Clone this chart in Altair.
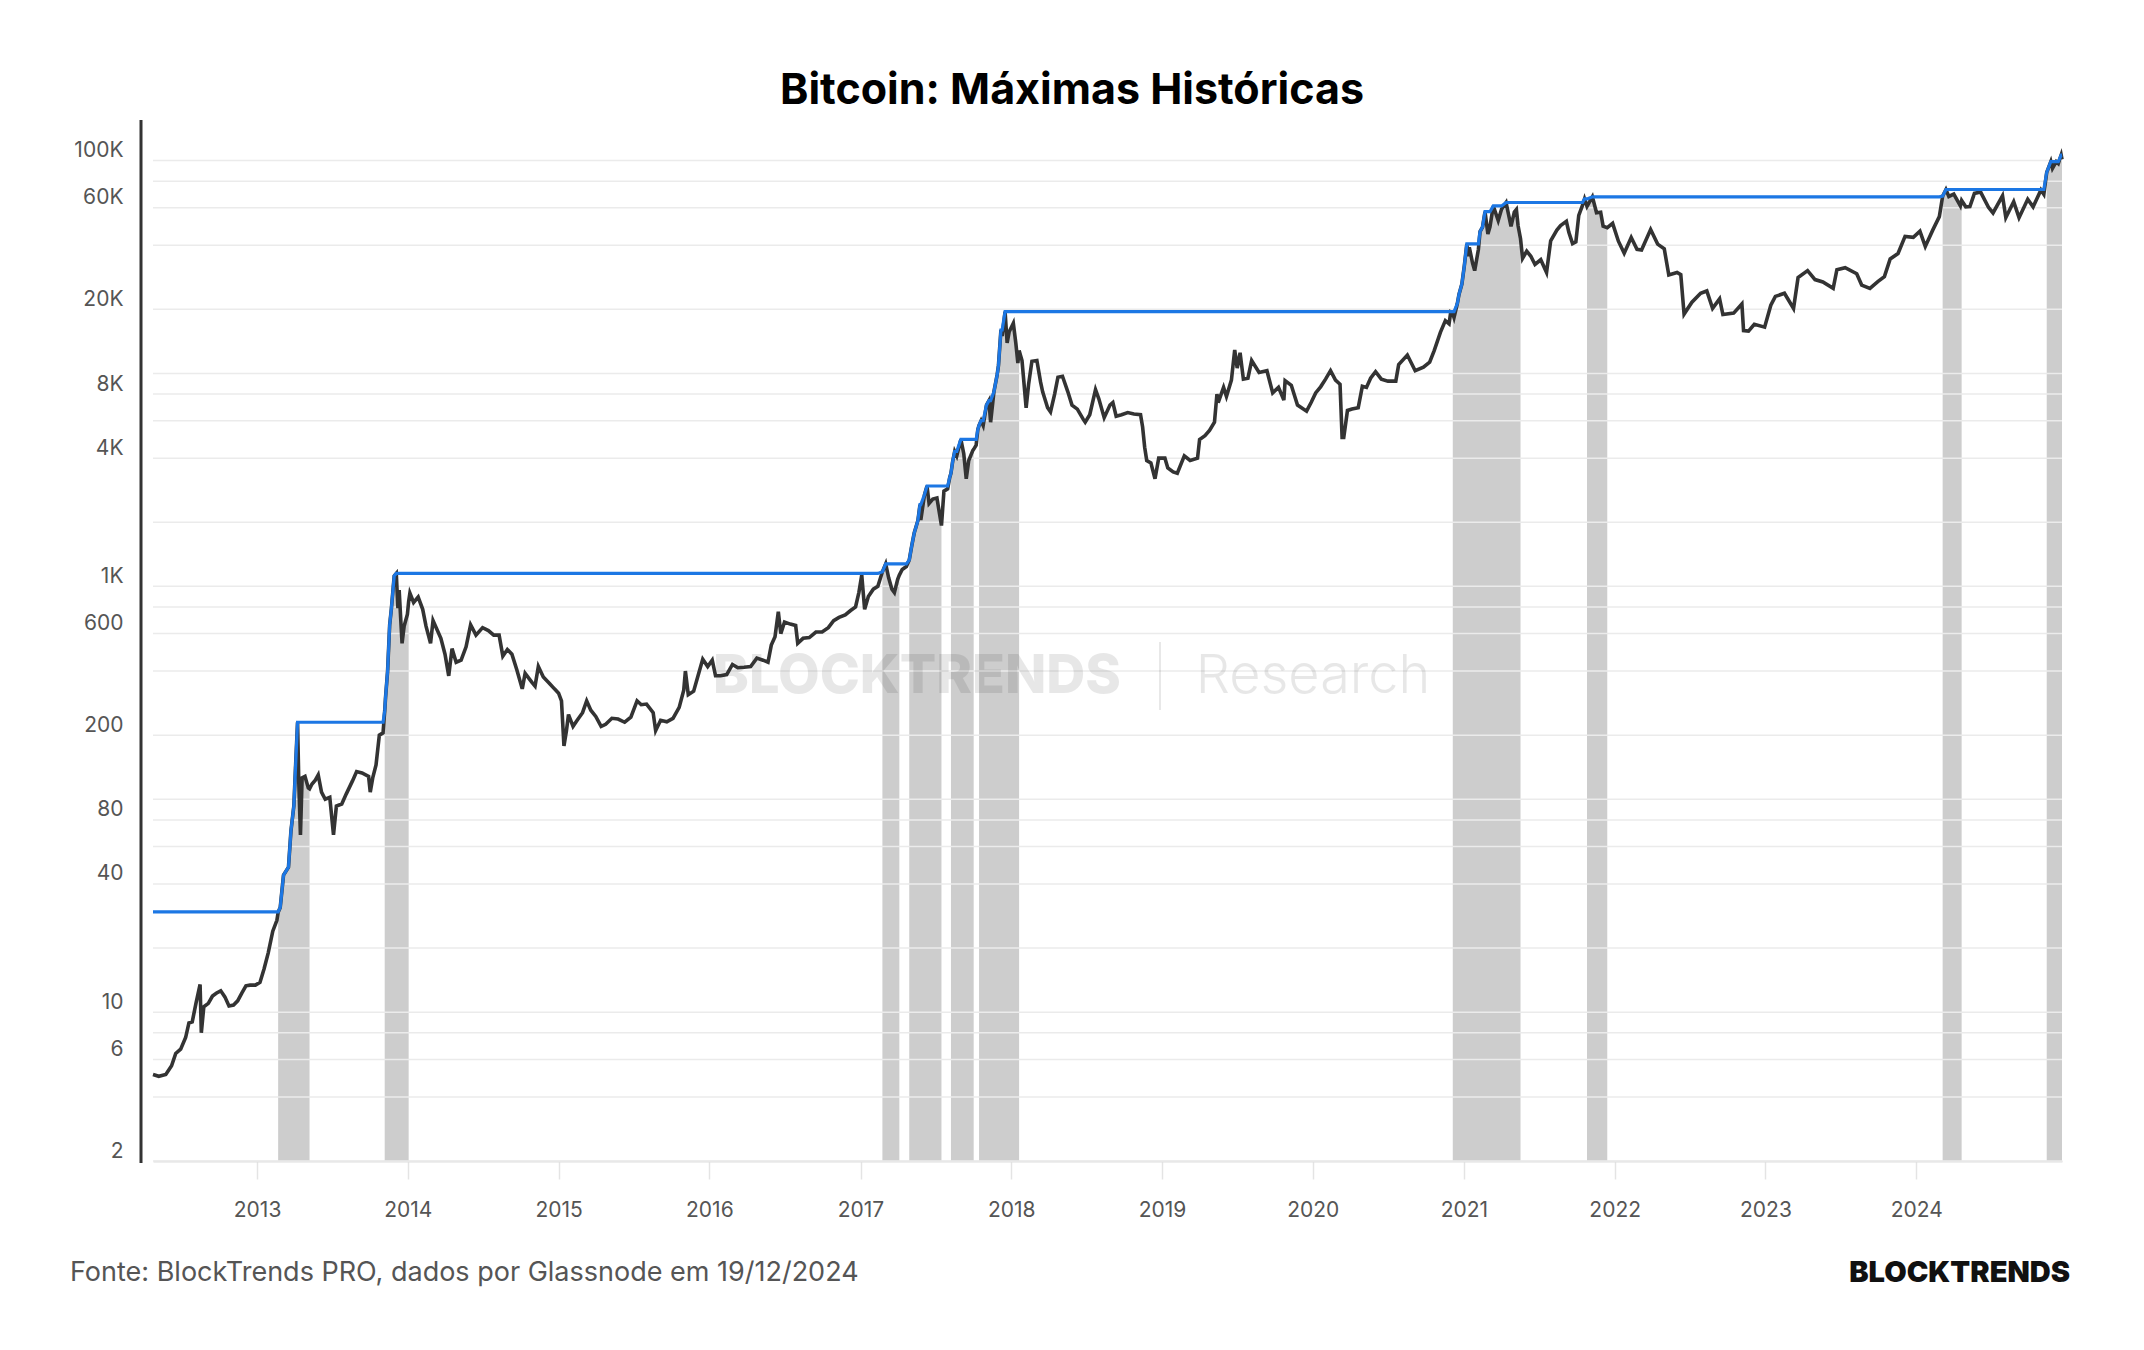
import altair as alt
import numpy as np
import pandas as pd

# Bitcoin daily close (USD), sampled along the curve
dates = [
    "2012-04-24", "2012-05-08", "2012-05-25", "2012-06-08", "2012-06-18", "2012-06-30",
    "2012-07-12", "2012-07-20", "2012-07-28", "2012-08-06", "2012-08-16", "2012-08-19",
    "2012-08-25", "2012-09-05", "2012-09-15", "2012-09-25", "2012-10-05", "2012-10-15",
    "2012-10-25", "2012-11-05", "2012-11-15", "2012-11-25", "2012-12-05", "2012-12-15",
    "2012-12-28",
    "2013-01-08", "2013-01-18", "2013-01-28", "2013-02-08", "2013-02-18", "2013-02-21",
    "2013-02-26", "2013-03-06", "2013-03-12", "2013-03-18", "2013-03-24", "2013-03-31",
    "2013-04-04", "2013-04-09", "2013-04-12", "2013-04-16", "2013-04-20", "2013-04-27",
    "2013-05-05", "2013-05-08", "2013-05-14", "2013-05-22", "2013-05-29", "2013-06-06",
    "2013-06-15", "2013-06-26", "2013-07-05", "2013-07-12", "2013-07-25", "2013-08-05",
    "2013-08-20", "2013-08-30", "2013-09-12", "2013-09-28", "2013-10-02", "2013-10-08",
    "2013-10-16", "2013-10-24", "2013-11-02", "2013-11-06", "2013-11-08", "2013-11-13",
    "2013-11-18", "2013-11-22", "2013-11-29", "2013-12-04", "2013-12-08", "2013-12-11",
    "2013-12-18", "2013-12-23", "2013-12-31",
    "2014-01-03", "2014-01-06", "2014-01-15", "2014-01-26", "2014-02-06", "2014-02-14",
    "2014-02-25", "2014-03-03", "2014-03-12", "2014-03-22", "2014-04-01", "2014-04-10",
    "2014-04-18", "2014-04-28", "2014-05-10", "2014-05-22", "2014-06-02", "2014-06-15",
    "2014-07-01", "2014-07-15", "2014-07-28", "2014-08-10", "2014-08-19", "2014-08-30",
    "2014-09-10", "2014-09-22", "2014-10-05", "2014-10-12", "2014-10-28", "2014-11-05",
    "2014-11-13", "2014-11-25", "2014-12-10", "2014-12-22",
    "2015-01-01", "2015-01-08", "2015-01-14", "2015-01-20", "2015-01-25", "2015-02-05",
    "2015-02-15", "2015-02-28", "2015-03-10", "2015-03-20", "2015-04-01", "2015-04-14",
    "2015-04-25", "2015-05-10", "2015-05-25", "2015-06-10", "2015-06-25", "2015-07-10",
    "2015-07-20", "2015-08-02", "2015-08-18", "2015-08-24", "2015-09-05", "2015-09-20",
    "2015-10-05", "2015-10-20", "2015-10-31", "2015-11-04", "2015-11-11", "2015-11-24",
    "2015-12-07", "2015-12-16", "2015-12-28",
    "2016-01-08", "2016-01-16", "2016-01-28", "2016-02-12", "2016-02-26", "2016-03-10",
    "2016-03-25", "2016-04-10", "2016-04-25", "2016-05-10", "2016-05-22", "2016-05-30",
    "2016-06-08", "2016-06-16", "2016-06-22", "2016-07-01", "2016-07-15", "2016-07-28",
    "2016-08-02", "2016-08-15", "2016-08-30", "2016-09-15", "2016-09-30", "2016-10-15",
    "2016-10-28", "2016-11-10", "2016-11-25", "2016-12-08", "2016-12-20", "2016-12-28",
    "2017-01-04", "2017-01-11", "2017-01-20", "2017-02-01", "2017-02-12", "2017-02-23",
    "2017-03-03", "2017-03-10", "2017-03-18", "2017-03-24", "2017-04-01", "2017-04-05",
    "2017-04-12", "2017-04-22", "2017-04-29", "2017-05-05", "2017-05-11", "2017-05-20",
    "2017-05-25", "2017-05-27", "2017-06-05", "2017-06-11", "2017-06-16", "2017-06-25",
    "2017-07-05", "2017-07-16", "2017-07-22", "2017-07-31", "2017-08-05", "2017-08-08",
    "2017-08-12", "2017-08-17", "2017-08-22", "2017-09-01", "2017-09-08", "2017-09-14",
    "2017-09-20", "2017-09-30", "2017-10-02", "2017-10-08", "2017-10-12", "2017-10-15",
    "2017-10-20", "2017-10-25", "2017-11-02", "2017-11-08", "2017-11-12", "2017-11-20",
    "2017-11-28", "2017-12-01", "2017-12-07", "2017-12-10", "2017-12-17", "2017-12-22",
    "2017-12-27",
    "2018-01-06", "2018-01-12", "2018-01-17", "2018-01-20", "2018-01-27", "2018-02-06",
    "2018-02-12", "2018-02-20", "2018-03-04", "2018-03-13", "2018-03-18", "2018-03-30",
    "2018-04-06", "2018-04-16", "2018-04-24", "2018-05-05", "2018-05-18", "2018-05-28",
    "2018-06-10", "2018-06-24", "2018-06-29", "2018-07-10", "2018-07-24", "2018-08-01",
    "2018-08-14", "2018-08-28", "2018-09-04", "2018-09-12", "2018-09-25", "2018-10-10",
    "2018-10-25", "2018-11-10", "2018-11-15", "2018-11-20", "2018-11-25", "2018-12-05",
    "2018-12-15", "2018-12-24",
    "2019-01-08", "2019-01-15", "2019-01-28", "2019-02-07", "2019-02-24", "2019-03-10",
    "2019-03-28", "2019-04-02", "2019-04-15", "2019-04-26", "2019-05-08", "2019-05-14",
    "2019-05-17", "2019-05-30", "2019-06-06", "2019-06-18", "2019-06-26", "2019-07-02",
    "2019-07-09", "2019-07-17", "2019-07-28", "2019-08-06", "2019-08-24", "2019-09-12",
    "2019-09-26", "2019-10-10", "2019-10-23", "2019-10-26", "2019-11-10", "2019-11-25",
    "2019-12-17", "2019-12-28",
    "2020-01-08", "2020-01-20", "2020-02-01", "2020-02-13", "2020-02-25", "2020-03-07",
    "2020-03-12", "2020-03-16", "2020-03-25", "2020-04-05", "2020-04-20", "2020-04-30",
    "2020-05-10", "2020-05-20", "2020-06-01", "2020-06-15", "2020-07-01", "2020-07-20",
    "2020-07-27", "2020-08-17", "2020-09-05", "2020-09-25", "2020-10-10", "2020-10-21",
    "2020-11-05", "2020-11-17", "2020-11-26", "2020-11-30", "2020-12-05", "2020-12-08",
    "2020-12-16", "2020-12-20", "2020-12-27",
    "2021-01-02", "2021-01-08", "2021-01-11", "2021-01-14", "2021-01-22", "2021-01-27",
    "2021-02-05", "2021-02-09", "2021-02-15", "2021-02-21", "2021-02-28", "2021-03-05",
    "2021-03-13", "2021-03-25", "2021-04-02", "2021-04-13", "2021-04-25", "2021-05-03",
    "2021-05-08", "2021-05-12", "2021-05-18", "2021-05-23", "2021-06-02", "2021-06-12",
    "2021-06-22", "2021-07-06", "2021-07-20", "2021-07-30", "2021-08-14", "2021-08-23",
    "2021-09-06", "2021-09-12", "2021-09-21", "2021-09-29", "2021-10-06", "2021-10-15",
    "2021-10-20", "2021-10-26", "2021-11-08", "2021-11-18", "2021-11-28", "2021-12-04",
    "2021-12-14", "2021-12-27",
    "2022-01-10", "2022-01-24", "2022-02-10", "2022-02-24", "2022-03-07", "2022-03-29",
    "2022-04-15", "2022-05-01", "2022-05-12", "2022-06-01", "2022-06-10", "2022-06-18",
    "2022-07-07", "2022-07-28", "2022-08-12", "2022-08-26", "2022-09-12", "2022-09-20",
    "2022-10-16", "2022-11-05", "2022-11-09", "2022-11-21", "2022-12-05", "2022-12-30",
    "2023-01-14", "2023-01-25", "2023-02-16", "2023-03-10", "2023-03-21", "2023-04-13",
    "2023-05-01", "2023-05-20", "2023-06-14", "2023-06-23", "2023-07-13", "2023-08-10",
    "2023-08-22", "2023-09-11", "2023-09-30", "2023-10-16", "2023-10-30", "2023-11-18",
    "2023-12-05", "2023-12-25",
    "2024-01-10", "2024-01-23", "2024-02-10", "2024-02-26", "2024-03-05", "2024-03-13",
    "2024-03-20", "2024-04-01", "2024-04-17", "2024-04-20", "2024-04-30", "2024-05-10",
    "2024-05-21", "2024-06-05", "2024-06-24", "2024-07-05", "2024-07-28", "2024-08-05",
    "2024-08-24", "2024-09-06", "2024-09-27", "2024-10-10", "2024-10-29", "2024-11-05",
    "2024-11-12", "2024-11-22", "2024-11-26", "2024-12-05", "2024-12-10", "2024-12-17",
    "2024-12-19",
]

prices = [
    5.1, 5.0, 5.1, 5.6, 6.4, 6.7,
    7.6, 8.9, 9.0, 11.0, 13.5, 8.0,
    10.6, 11.0, 11.9, 12.3, 12.6, 11.8,
    10.7, 10.8, 11.3, 12.3, 13.3, 13.4,
    13.4,
    13.8, 16.0, 19.0, 24.0, 27.0, 29.5,
    31.0, 44.0, 46.0, 48.0, 71.0, 93.0,
    140.0, 230.0, 120.0, 68.0, 126.0, 128.0,
    113.0, 112.0, 118.0, 123.0, 130.0, 108.0,
    100.0, 102.0, 68.0, 93.0, 95.0, 106.0,
    122.0, 135.0, 133.0, 128.0, 108.0, 126.0,
    145.0, 200.0, 205.0, 260.0, 300.0, 400.0,
    660.0, 780.0, 1120.0, 1150.0, 790.0, 960.0,
    540.0, 650.0, 740.0,
    850.0, 930.0, 840.0, 890.0, 780.0, 650.0,
    540.0, 690.0, 630.0, 570.0, 480.0, 380.0,
    510.0, 440.0, 450.0, 520.0, 660.0, 590.0,
    640.0, 620.0, 590.0, 590.0, 470.0, 505.0,
    480.0, 405.0, 330.0, 390.0, 355.0, 340.0,
    420.0, 375.0, 350.0, 330.0,
    315.0, 290.0, 178.0, 210.0, 250.0, 220.0,
    235.0, 255.0, 290.0, 262.0, 245.0, 220.0,
    225.0, 240.0, 238.0, 230.0, 243.0, 290.0,
    278.0, 280.0, 255.0, 210.0, 235.0, 231.0,
    240.0, 270.0, 325.0, 400.0, 310.0, 322.0,
    395.0, 455.0, 420.0,
    450.0, 380.0, 380.0, 385.0, 430.0, 415.0,
    417.0, 420.0, 460.0, 450.0, 440.0, 530.0,
    580.0, 760.0, 600.0, 680.0, 665.0, 655.0,
    540.0, 570.0, 575.0, 610.0, 610.0, 640.0,
    690.0, 715.0, 735.0, 770.0, 800.0, 935.0,
    1130.0, 780.0, 895.0, 970.0, 1000.0, 1170.0,
    1275.0, 1100.0, 970.0, 935.0, 1080.0, 1130.0,
    1200.0, 1240.0, 1330.0, 1550.0, 1780.0, 2040.0,
    2420.0, 2050.0, 2700.0, 2960.0, 2450.0, 2570.0,
    2600.0, 1930.0, 2800.0, 2870.0, 3250.0, 3400.0,
    3850.0, 4300.0, 4100.0, 4900.0, 4200.0, 3200.0,
    3900.0, 4350.0, 4400.0, 4600.0, 5450.0, 5700.0,
    6000.0, 5700.0, 7100.0, 7450.0, 5900.0, 8200.0,
    9900.0, 10900.0, 16000.0, 15000.0, 19500.0, 13900.0,
    15700.0,
    17200.0, 13900.0, 11200.0, 12800.0, 11500.0, 6900.0,
    8900.0, 11400.0, 11500.0, 9100.0, 8200.0, 6900.0,
    6600.0, 8000.0, 9600.0, 9700.0, 8200.0, 7100.0,
    6800.0, 6100.0, 5900.0, 6400.0, 8400.0, 7600.0,
    6200.0, 7100.0, 7300.0, 6300.0, 6400.0, 6550.0,
    6450.0, 6400.0, 5600.0, 4500.0, 3900.0, 3800.0,
    3200.0, 4000.0,
    4000.0, 3600.0, 3450.0, 3400.0, 4100.0, 3900.0,
    4000.0, 4900.0, 5100.0, 5400.0, 5900.0, 8000.0,
    7300.0, 8600.0, 7800.0, 9300.0, 12900.0, 10600.0,
    12500.0, 9400.0, 9500.0, 11500.0, 10100.0, 10300.0,
    8100.0, 8600.0, 7500.0, 9250.0, 8800.0, 7100.0,
    6650.0, 7300.0,
    8100.0, 8650.0, 9400.0, 10300.0, 9300.0, 8900.0,
    5000.0, 5000.0, 6700.0, 6800.0, 6900.0, 8700.0,
    8600.0, 9500.0, 10200.0, 9400.0, 9200.0, 9200.0,
    11000.0, 12200.0, 10300.0, 10700.0, 11300.0, 12800.0,
    15600.0, 17700.0, 17100.0, 19400.0, 19100.0, 18300.0,
    21300.0, 23500.0, 26300.0,
    32100.0, 40600.0, 35500.0, 39100.0, 32900.0, 30400.0,
    38200.0, 46400.0, 48700.0, 57500.0, 45200.0, 48800.0,
    61200.0, 52300.0, 59000.0, 63500.0, 49100.0, 57200.0,
    58800.0, 49500.0, 42900.0, 34700.0, 37500.0, 35500.0,
    32500.0, 34200.0, 29800.0, 42000.0, 47100.0, 49500.0,
    51800.0, 46000.0, 40700.0, 41500.0, 55300.0, 61500.0,
    66000.0, 60900.0, 67500.0, 56900.0, 57200.0, 49200.0,
    48400.0, 50700.0,
    41800.0, 36700.0, 43500.0, 38300.0, 38000.0, 47400.0,
    40500.0, 38500.0, 29000.0, 29800.0, 29100.0, 19000.0,
    21600.0, 23800.0, 24400.0, 20200.0, 22400.0, 18900.0,
    19200.0, 21200.0, 15900.0, 15800.0, 17000.0, 16500.0,
    20900.0, 23000.0, 23800.0, 20200.0, 28200.0, 30400.0,
    27600.0, 26900.0, 25100.0, 30700.0, 31400.0, 29400.0,
    26000.0, 25100.0, 27000.0, 28500.0, 34500.0, 36600.0,
    44000.0, 43600.0,
    46600.0, 39500.0, 47100.0, 54500.0, 68000.0, 73100.0,
    67800.0, 69600.0, 61300.0, 64900.0, 60600.0, 60800.0,
    70100.0, 71100.0, 60300.0, 56700.0, 68300.0, 54000.0,
    64100.0, 53900.0, 65800.0, 60600.0, 72700.0, 69400.0,
    88000.0, 98900.0, 91900.0, 98700.0, 96700.0, 106100.0,
    101200.0,
]

# All-time high standing before the series begins (June 2011 close)
PRIOR_ATH = 29.6

# Shaded phases around new all-time highs
ath_start = ["2013-02-21", "2013-11-06", "2017-02-23", "2017-04-29", "2017-08-08",
             "2017-10-15", "2020-12-05", "2021-10-26", "2024-03-05", "2024-11-12"]
ath_end = ["2013-05-08", "2014-01-03", "2017-04-05", "2017-07-16", "2017-10-02",
           "2018-01-20", "2021-05-18", "2021-12-14", "2024-04-20", "2024-12-19"]

# Log-axis grid and the subset of values that carry a label
y_grid = [2, 4, 6, 8, 10, 20, 40, 60, 80, 100, 200, 400, 600, 800, 1000, 2000, 4000,
          6000, 8000, 10000, 20000, 40000, 60000, 80000, 100000]
y_labeled = [2, 6, 10, 40, 80, 200, 600, 1000, 4000, 8000, 20000, 60000, 100000]
year_ticks = list(range(2013, 2025))

title_text = "Bitcoin: Máximas Históricas"
source_text = "Fonte: BlockTrends PRO, dados por Glassnode em 19/12/2024"
brand_text = "BLOCKTRENDS"
watermark_left = "BLOCKTRENDS"
watermark_right = "Research"

W, H = 1909, 1041
FONT = "Inter"
Y_MIN, Y_MAX = 2, 155000

df = pd.DataFrame({"date": dates, "price": prices})
df["ath"] = np.maximum.accumulate(np.maximum(df["price"].to_numpy(), PRIOR_ATH))

rows = []
for k, (s, e) in enumerate(zip(ath_start, ath_end)):
    sub = df[(df["date"] >= s) & (df["date"] <= e)]
    for d, p in zip(sub["date"], sub["price"]):
        rows.append({"date": d, "price": p, "base": Y_MIN, "win": k})
shade = pd.DataFrame(rows)
grid_df = pd.DataFrame({"v": y_grid})

x_scale = alt.Scale(
    type="utc",
    domain=[alt.DateTime(year=2012, month=4, date=24, utc=True),
            alt.DateTime(year=2024, month=12, date=19, utc=True)],
)
y_scale = alt.Scale(type="log", domain=[Y_MIN, Y_MAX], nice=False)

x_axis = alt.Axis(
    values=[alt.DateTime(year=y, month=1, date=1, utc=True) for y in year_ticks],
    format="%Y", title=None, grid=False, labelOverlap=False, labelFlush=False,
    domainColor="#dddddd", domainWidth=2, tickColor="#e4e4e4", tickWidth=1.5,
    tickSize=18, labelPadding=20, labelFont=FONT, labelFontSize=21, labelColor="#555555",
)
label_expr = (
    f"indexof({y_labeled}, datum.value) >= 0 ? "
    "(datum.value >= 1000 ? (datum.value / 1000) + 'K' : '' + datum.value) : ''"
)
y_axis = alt.Axis(
    values=y_grid, labelExpr=label_expr, title=None, grid=False, domain=False,
    ticks=False, tickSize=0, labelPadding=30, labelOffset=-10, labelOverlap=False,
    labelFont=FONT, labelFontSize=21, labelColor="#555555",
)

X = alt.X("date:T", scale=x_scale, axis=x_axis)

shade_layer = alt.Chart(shade).mark_area(color="#cdcdcd", interpolate="linear").encode(
    x=X,
    y=alt.Y("price:Q", scale=y_scale, axis=y_axis),
    y2=alt.Y2("base:Q"),
    detail="win:N",
)

grid_layer = alt.Chart(grid_df).mark_rule(color="#ebebeb", strokeWidth=1.5).encode(
    y=alt.Y("v:Q", scale=y_scale, axis=y_axis)
)

yaxis_line = alt.Chart(pd.DataFrame({"k": [0]})).mark_rule(
    color="#333333", strokeWidth=3
).encode(x=alt.value(-12), y=alt.value(0), y2=alt.value(H + 2))


def text_layer(txt, x, y, size, weight, color, align, opacity=1.0):
    return alt.Chart(pd.DataFrame({"t": [txt]})).mark_text(
        font=FONT, fontSize=size, fontWeight=weight, color=color, align=align,
        baseline="middle", opacity=opacity,
    ).encode(x=alt.value(x), y=alt.value(y), text="t:N")


wm_left = text_layer(watermark_left, 764, 557, 54, 800, "#000000", "center", 0.09)
wm_right = text_layer(watermark_right, 1160, 557, 54, 300, "#000000", "center", 0.09)
wm_bar = alt.Chart(pd.DataFrame({"k": [0]})).mark_rule(
    color="#000000", opacity=0.09, strokeWidth=2
).encode(x=alt.value(1007), y=alt.value(522), y2=alt.value(590))

price_line = alt.Chart(df).mark_line(color="#333333", strokeWidth=3.6).encode(
    x=X, y=alt.Y("price:Q", scale=y_scale, axis=y_axis)
)
ath_line = alt.Chart(df).mark_line(color="#1c77e4", strokeWidth=3.2).encode(
    x=X, y=alt.Y("ath:Q", scale=y_scale, axis=y_axis)
)

title = text_layer(title_text, 919, -29, 43, 700, "#000000", "center")
source = text_layer(source_text, -83, 1153, 27, 400, "#555555", "left")
brand = text_layer(brand_text, 1917, 1153, 29, 900, "#111111", "right")

chart = alt.layer(
    shade_layer, grid_layer, wm_left, wm_right, wm_bar, price_line, ath_line,
    yaxis_line, title, source, brand,
).properties(
    width=W,
    height=H,
    padding={"left": 153, "top": 120, "right": 82, "bottom": 189},
    autosize=alt.AutoSizeParams(type="none"),
    background="white",
).configure_view(strokeWidth=0)

chart.save("out.html", embed_options={"renderer": "svg", "actions": False})
